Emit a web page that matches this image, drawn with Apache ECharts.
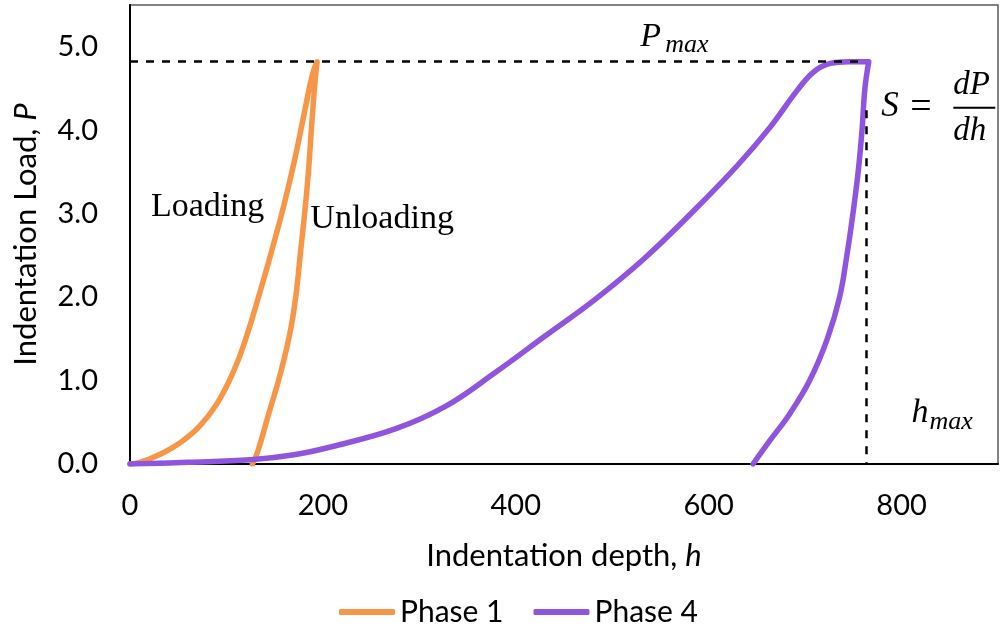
<!DOCTYPE html>
<html><head><meta charset="utf-8">
<script src="https://cdn.jsdelivr.net/npm/echarts@6/dist/echarts.min.js"></script>
<style>html,body{margin:0;padding:0;background:#fff}#c{width:1001px;height:627px}</style>
</head><body><div id="c"></div>
<script>
// Phase 1: loading then unloading (depth h, load P)
const phase1Depth = [0, 10, 20, 30, 40, 55, 72, 90, 107, 120, 134, 148, 160, 171, 181, 189, 194, 192, 189, 184, 177, 169, 157, 143, 133, 127];
const phase1Load  = [0, 0.02, 0.06, 0.11, 0.17, 0.28, 0.45, 0.72, 1.1, 1.5, 2.03, 2.6, 3.12, 3.66, 4.22, 4.66, 4.82, 4.6, 4.16, 3.36, 2.56, 1.77, 1.13, 0.57, 0.17, 0];
// Phase 4: loading, hold, unloading
const phase4Depth = [0, 60, 125, 170, 210, 275, 327, 378, 430, 482, 533, 585, 630, 664, 692, 709, 726, 745, 766, 762, 759, 755, 749.6, 743.3, 735.8, 723, 704.7, 684, 664.7, 646];
const phase4Load  = [0, 0.02, 0.05, 0.11, 0.21, 0.42, 0.69, 1.09, 1.53, 1.97, 2.46, 3.04, 3.58, 4.04, 4.48, 4.7, 4.8, 4.82, 4.82, 4.5, 4.0, 3.5, 3.0, 2.5, 2.0, 1.5, 1.0, 0.6, 0.3, 0];
// reference lines
const pMax = 4.82;
const hMax = 763;
const hMaxLineTop = 4.24;
// tick labels
const xTickValues = [0, 200, 400, 600, 800];
const yTickValues = [0, 1, 2, 3, 4, 5];
// text annotations anchored in data space [h, P]
const annLoading = [21.7, 3.08];
const annUnloading = [187, 2.94];
const annPmax = [529, 5.12];
const annStiff = [779, 4.28];
const annHmax = [810.3, 0.61];

const zip = (a, b) => a.map((v, i) => [v, b[i]]);
const chart = echarts.init(document.getElementById('c'), null, {renderer: 'canvas'});
const sans = 'Lato';
const serif = '"Liberation Serif"';

chart.setOption({
  animation: false,
  backgroundColor: '#fff',
  grid: {left: 130, right: -2, top: 5, bottom: 163, show: true, borderColor: '#595959', borderWidth: 1.5},
  legend: {
    data: ['Phase 1', 'Phase 4'], left: 334, top: 592, icon: 'roundRect',
    itemWidth: 56, itemHeight: 6, itemGap: 30,
    textStyle: {fontFamily: sans, fontSize: 30, color: '#000'}
  },
  xAxis: {
    type: 'value', min: 0, max: 900, interval: 200,
    axisLine: {lineStyle: {color: '#000', width: 2}},
    axisTick: {show: false}, splitLine: {show: false},
    axisLabel: {formatter: v => xTickValues.includes(v) ? String(v) : '', fontFamily: sans, fontSize: 29, color: '#000', margin: 27},
    name: 'Indentation depth, {i|h}', nameLocation: 'middle', nameGap: 76,
    nameTextStyle: {fontFamily: sans, fontSize: 31, color: '#000', rich: {i: {fontFamily: sans, fontSize: 31, fontStyle: 'italic', color: '#000'}}}
  },
  yAxis: {
    type: 'value', min: 0, max: 5.5, interval: 1,
    axisLine: {show: true, lineStyle: {color: '#000', width: 2}},
    axisTick: {show: false}, splitLine: {show: false},
    axisLabel: {formatter: v => yTickValues.includes(v) ? v.toFixed(1) : '', fontFamily: sans, fontSize: 29, color: '#000', margin: 32},
    name: 'Indentation Load, {i|P}', nameLocation: 'middle', nameGap: 89,
    nameTextStyle: {fontFamily: sans, fontSize: 31, color: '#000', rich: {i: {fontFamily: sans, fontSize: 31, fontStyle: 'italic', color: '#000'}}}
  },
  series: [
    {
      name: 'Phase 1', type: 'line', data: zip(phase1Depth, phase1Load), smooth: 0.45,
      showSymbol: false, color: '#F79646',
      lineStyle: {width: 5.5, cap: 'round', join: 'round'},
      markLine: {
        silent: true, symbol: ['none', 'none'], label: {show: false},
        lineStyle: {color: '#000', type: [8, 8], width: 2.5},
        emphasis: {disabled: true},
        data: [
          [{coord: [0, pMax]}, {coord: [hMax, pMax]}],
          [{coord: [hMax, hMaxLineTop]}, {coord: [hMax, 0]}]
        ]
      }
    },
    {
      name: 'Phase 4', type: 'line', data: zip(phase4Depth, phase4Load), smooth: 0.4,
      showSymbol: false, color: '#8F55DE', z: 3,
      lineStyle: {width: 5.5, cap: 'round', join: 'round'}
    }
  ]
});

function px(p) { return chart.convertToPixel({gridIndex: 0}, p); }
function txt(x, y, text, size, italic) {
  return {type: 'text', x: x, y: y, z: 100, style: {text: text, fontFamily: serif, fontSize: size, fontStyle: italic ? 'italic' : 'normal', fill: '#000', align: 'left', verticalAlign: 'middle'}};
}
const L = px(annLoading), U = px(annUnloading), Pm = px(annPmax), S = px(annStiff), H = px(annHmax);
chart.setOption({
  graphic: [
    txt(L[0], L[1], 'Loading', 34, false),
    txt(U[0], U[1], 'Unloading', 34, false),
    txt(Pm[0], Pm[1], 'P', 34, true),
    txt(Pm[0] + 25, Pm[1] + 8, 'max', 26, true),
    txt(S[0], S[1], 'S', 35, true),
    txt(S[0] + 29, S[1] + 1, '=', 38, false),
    txt(S[0] + 72, S[1] - 21, 'dP', 33, true),
    {type: 'line', z: 100, shape: {x1: S[0] + 72, y1: S[1] + 1, x2: S[0] + 114, y2: S[1] + 1}, style: {stroke: '#000', lineWidth: 2}},
    txt(S[0] + 72, S[1] + 25, 'dh', 33, true),
    txt(H[0], H[1], 'h', 34, true),
    txt(H[0] + 18, H[1] + 9, 'max', 26, true)
  ]
});
</script>
</body></html>
